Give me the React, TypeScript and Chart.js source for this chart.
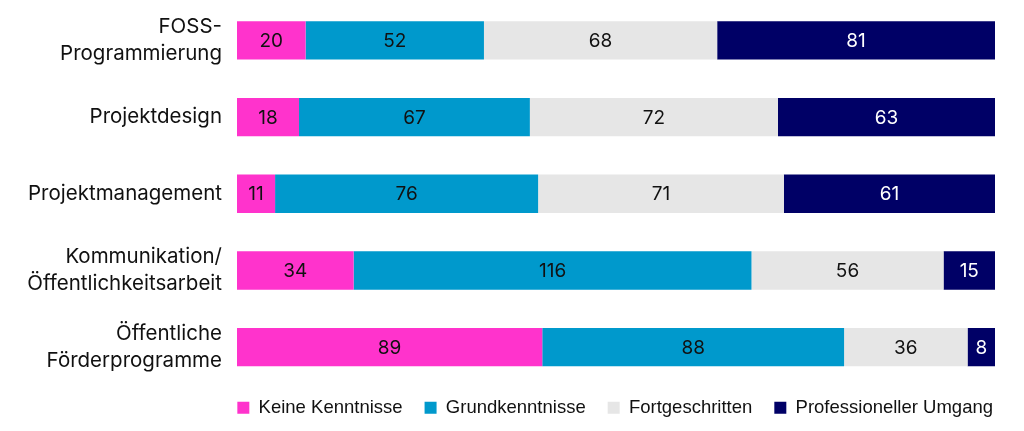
import React, { useEffect, useRef } from 'react';
import { Chart, registerables } from 'chart.js';

Chart.register(...registerables);

const categories: string[][] = [
  ['FOSS-', 'Programmierung'],
  ['Projektdesign'],
  ['Projektmanagement'],
  ['Kommunikation/', 'Öffentlichkeitsarbeit'],
  ['Öffentliche', 'Förderprogramme'],
];
const seriesNames = ['Keine Kenntnisse', 'Grundkenntnisse', 'Fortgeschritten', 'Professioneller Umgang'];
const keineKenntnisse = [20, 18, 11, 34, 89];
const grundkenntnisse = [52, 67, 76, 116, 88];
const fortgeschritten = [68, 72, 71, 56, 36];
const professionell = [81, 63, 61, 15, 8];
const seriesColors = ['#FF33CC', '#0099CC', '#E6E6E6', '#000066'];
const labelColors = ['#111111', '#111111', '#111111', '#FFFFFF'];

const FONT = "Inter, 'Noto Sans', sans-serif";
const LEGEND_PAD = 22;

export default function App() {
  const ref = useRef<HTMLCanvasElement | null>(null);
  useEffect(() => {
    if (!ref.current) return;
    const raw = [keineKenntnisse, grundkenntnisse, fortgeschritten, professionell];
    const totals = categories.map((_, i) => raw.reduce((s, arr) => s + arr[i], 0));
    const valueLabels = {
      id: 'valueLabels',
      afterDatasetsDraw(chart: any) {
        const ctx = chart.ctx;
        ctx.save();
        ctx.font = `19px ${FONT}`;
        ctx.textAlign = 'center';
        ctx.textBaseline = 'middle';
        chart.data.datasets.forEach((ds: any, di: number) => {
          const meta = chart.getDatasetMeta(di);
          meta.data.forEach((el: any, i: number) => {
            const x = (el.x + el.base) / 2;
            ctx.fillStyle = labelColors[di];
            ctx.fillText(String(raw[di][i]), x, el.y + 1);
          });
        });
        ctx.restore();
      },
    };
    const legendShift = {
      id: 'legendShift',
      afterLayout(chart: any) {
        const lg = chart.legend;
        if (lg) {
          lg.left += LEGEND_PAD - 2;
          lg.right += LEGEND_PAD - 2;
          lg.top -= 9;
          lg.bottom -= 9;
        }
      },
    };
    const chart = new Chart(ref.current, {
      type: 'bar',
      data: {
        labels: categories,
        datasets: raw.map((arr, di) => ({
          label: seriesNames[di],
          data: arr.map((v, i) => (v / totals[i]) * 100),
          backgroundColor: seriesColors[di],
          borderWidth: 0,
          barPercentage: 0.5,
          categoryPercentage: 1,
        })),
      },
      options: {
        indexAxis: 'y',
        animation: false,
        responsive: false,
        layout: { padding: { top: 2, right: 29, left: 0, bottom: -5 } },
        scales: {
          x: { stacked: true, min: 0, max: 100, display: false },
          y: {
            stacked: true,
            grid: { display: false, drawTicks: false },
            border: { display: false },
            ticks: {
              color: '#111111',
              padding: 15,
              font: { family: FONT, size: 20.5, lineHeight: 1.32 },
            },
            afterFit(scale: any) {
              scale.width = 237;
              scale.paddingTop = 0;
              scale.paddingBottom = 0;
            },
          },
        },
        plugins: {
          legend: {
            position: 'bottom',
            align: 'end',
            labels: {
              boxWidth: 12,
              boxHeight: 12,
              padding: LEGEND_PAD,
              color: '#111111',
              font: { family: "'Liberation Sans', Arial, sans-serif", size: 18.5 },
            },
          },
          tooltip: { enabled: false },
        },
      },
      plugins: [valueLabels, legendShift],
    });
    return () => chart.destroy();
  }, []);
  return (
    <div style={{ position: 'fixed', left: 0, top: 0, width: 1024, height: 431, background: '#fff' }}>
      <canvas ref={ref} width={1024} height={431} style={{ display: 'block' }} />
    </div>
  );
}
